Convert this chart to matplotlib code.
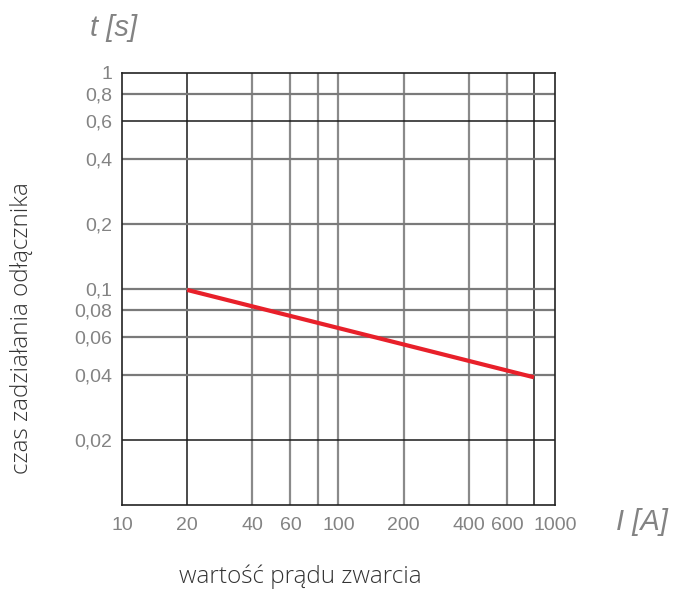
import matplotlib
matplotlib.use("Agg")
from matplotlib import pyplot as plt
from matplotlib.ticker import FixedLocator, NullLocator

# data
current = [20, 800]
trip_time = [0.099, 0.039]

x_ticks = [10, 20, 40, 60, 100, 200, 400, 600, 1000]
x_tick_labels = ["10", "20", "40", "60", "100", "200", "400", "600", "1000"]
y_ticks = [1, 0.8, 0.6, 0.4, 0.2, 0.1, 0.08, 0.06, 0.04, 0.02]
y_tick_labels = ["1", "0,8", "0,6", "0,4", "0,2", "0,1", "0,08", "0,06", "0,04", "0,02"]

x_grid_dark = [20, 800]
x_grid_gray = [40, 60, 80, 100, 200, 400, 600]
y_grid_dark = [0.6, 0.02]
y_grid_gray = [0.8, 0.4, 0.2, 0.1, 0.08, 0.06, 0.04]

arial = ["Liberation Sans", "DejaVu Sans"]
plain = ["Open Sans", "DejaVu Sans"]
gray = "#838383"

fig = plt.figure(figsize=(6.74, 5.9), dpi=100)
ax = fig.add_axes([0.181, 0.1441, 0.6424, 0.7322])
ax.set_xscale("log")
ax.set_yscale("log")
ax.set_xlim(10, 1000)
ax.set_ylim(0.01, 1)

for x in x_grid_gray:
    ax.axvline(x, color="#8a8a8a", lw=1.6, zorder=1)
for x in x_grid_dark:
    ax.axvline(x, color="#1a1a1a", lw=1.1, zorder=1)
for y in y_grid_gray:
    ax.axhline(y, color="#7a7a7a", lw=1.6, zorder=1)
for y in y_grid_dark:
    ax.axhline(y, color="#1a1a1a", lw=1.1, zorder=1)

ax.plot(current, trip_time, color="#e8202a", lw=3, solid_capstyle="butt", zorder=3)

ax.xaxis.set_major_locator(FixedLocator(x_ticks))
ax.xaxis.set_minor_locator(NullLocator())
ax.set_xticklabels(x_tick_labels)
ax.yaxis.set_major_locator(FixedLocator(y_ticks))
ax.yaxis.set_minor_locator(NullLocator())
ax.set_yticklabels(y_tick_labels)
ax.tick_params(length=0, labelsize=14, labelcolor=gray)
ax.tick_params(axis="x", pad=9)
ax.tick_params(axis="y", pad=7)
for lab in ax.get_xticklabels() + ax.get_yticklabels():
    lab.set_family(arial)

for s in ax.spines.values():
    s.set_color("#222222")
    s.set_linewidth(1.2)

fig.text(114 / 674, 1 - 28 / 590, "t [s]", ha="center", va="center",
         fontsize=21, style="italic", color=gray, family=arial)
fig.text(642 / 674, 1 - 522 / 590, "I [A]", ha="center", va="center",
         fontsize=21, style="italic", color=gray, family=arial)
fig.text(22 / 674, 1 - 328 / 590, "czas zadziałania odłącznika", rotation=90,
         ha="center", va="center", fontsize=17.5, color="#333333", family=plain,
         fontweight="light")
fig.text(300 / 674, 1 - 577 / 590, "wartość prądu zwarcia", ha="center", va="center",
         fontsize=17.5, color="#333333", family=plain, fontweight="light")

fig.savefig("out.png", dpi=100)
